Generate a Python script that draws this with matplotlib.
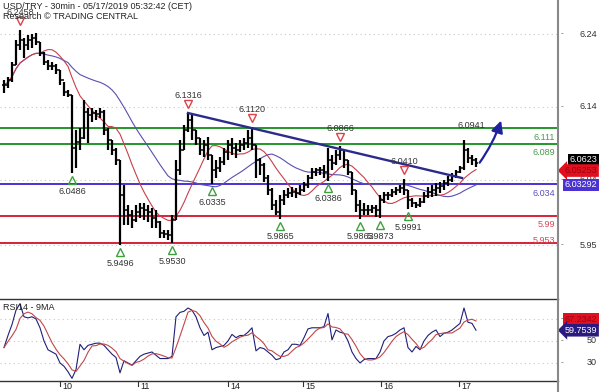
import matplotlib
matplotlib.use('Agg')
import matplotlib.pyplot as plt
from matplotlib.transforms import offset_copy
import numpy as np
import pandas as pd

plt.rcParams['font.family'] = ['Liberation Sans', 'DejaVu Sans']

# USD/TRY 30min bars (sampled)
high = [6.1770, 6.1811, 6.2017, 6.2319, 6.2458, 6.2347, 6.2388, 6.2402, 6.2416, 6.2292,
        6.2155, 6.2045, 6.2017, 6.1990, 6.1907, 6.1742, 6.1632, 6.1564, 6.1083, 6.1110,
        6.1495, 6.1385, 6.1385, 6.1357, 6.1385, 6.1357, 6.1110, 6.0945, 6.0836, 6.0671,
        6.0327, 6.0052, 5.9984, 6.0052, 6.0080, 6.0080, 6.0052, 6.0011, 5.9984, 5.9830,
        5.9709, 5.9709, 5.9915, 6.0671, 6.0945, 6.1152, 6.1316, 6.1289, 6.1083, 6.0973,
        6.0945, 6.0987, 6.0739, 6.0671, 6.0712, 6.0836, 6.0945, 6.0973, 6.0904, 6.0945,
        6.0973, 6.1083, 6.1120, 6.0877, 6.0698, 6.0629, 6.0465, 6.0286, 6.0121, 6.0190,
        6.0258, 6.0286, 6.0300, 6.0286, 6.0327, 6.0368, 6.0465, 6.0561, 6.0561, 6.0574,
        6.0602, 6.0836, 6.0739, 6.0808, 6.0866, 6.0808, 6.0671, 6.0506, 6.0258, 6.0121,
        6.0080, 6.0052, 6.0052, 6.0052, 6.0190, 6.0231, 6.0231, 6.0272, 6.0300, 6.0327,
        6.0410, 6.0258, 6.0149, 6.0093, 6.0149, 6.0231, 6.0300, 6.0327, 6.0355, 6.0368,
        6.0396, 6.0451, 6.0492, 6.0533, 6.0588, 6.0941, 6.0836, 6.0739, 6.0698]
low = [6.1591, 6.1660, 6.1742, 6.1976, 6.2182, 6.2072, 6.2182, 6.2209, 6.2251, 6.2100,
       6.1976, 6.1907, 6.1907, 6.1852, 6.1701, 6.1550, 6.1536, 6.0486, 6.0561, 6.0808,
       6.0960, 6.0904, 6.1193, 6.1220, 6.1248, 6.1014, 6.0808, 6.0739, 6.0602, 5.9496,
       5.9777, 5.9777, 5.9736, 5.9819, 5.9874, 5.9846, 5.9819, 5.9736, 5.9736, 5.9599,
       5.9599, 5.9571, 5.9530, 5.9846, 6.0465, 6.0808, 6.1055, 6.0945, 6.0877, 6.0739,
       6.0712, 6.0671, 6.0335, 6.0423, 6.0506, 6.0602, 6.0671, 6.0739, 6.0698, 6.0781,
       6.0808, 6.0836, 6.0808, 6.0423, 6.0465, 6.0368, 6.0190, 5.9984, 5.9915, 5.9865,
       6.0052, 6.0149, 6.0162, 6.0149, 6.0190, 6.0231, 6.0286, 6.0410, 6.0451, 6.0465,
       6.0423, 6.0386, 6.0533, 6.0602, 6.0671, 6.0561, 6.0465, 6.0190, 5.9956, 5.9863,
       5.9915, 5.9915, 5.9942, 5.9887, 5.9873, 6.0080, 6.0121, 6.0162, 6.0190, 6.0217,
       6.0190, 5.9991, 6.0025, 6.0011, 6.0025, 6.0080, 6.0149, 6.0162, 6.0176, 6.0217,
       6.0258, 6.0313, 6.0368, 6.0423, 6.0492, 6.0533, 6.0629, 6.0602, 6.0574]
close = [6.1701, 6.1770, 6.1976, 6.2251, 6.2319, 6.2251, 6.2319, 6.2347, 6.2292, 6.2141,
         6.2017, 6.1962, 6.1962, 6.1907, 6.1770, 6.1605, 6.1564, 6.0836, 6.0918, 6.0973,
         6.1330, 6.1289, 6.1316, 6.1303, 6.1330, 6.1083, 6.0945, 6.0808, 6.0671, 6.0190,
         5.9984, 5.9915, 5.9846, 5.9956, 6.0011, 5.9984, 5.9956, 5.9874, 5.9819, 5.9668,
         5.9654, 5.9640, 5.9846, 6.0533, 6.0808, 6.1083, 6.1220, 6.1083, 6.0973, 6.0808,
         6.0877, 6.0739, 6.0533, 6.0561, 6.0643, 6.0781, 6.0877, 6.0836, 6.0808, 6.0877,
         6.0904, 6.0973, 6.0877, 6.0671, 6.0602, 6.0423, 6.0258, 6.0052, 5.9956, 6.0121,
         6.0190, 6.0217, 6.0231, 6.0217, 6.0258, 6.0327, 6.0423, 6.0506, 6.0533, 6.0533,
         6.0506, 6.0671, 6.0629, 6.0739, 6.0808, 6.0671, 6.0506, 6.0258, 6.0052, 5.9984,
         5.9984, 5.9984, 6.0011, 5.9984, 6.0121, 6.0190, 6.0190, 6.0231, 6.0258, 6.0286,
         6.0258, 6.0121, 6.0080, 6.0052, 6.0093, 6.0176, 6.0231, 6.0258, 6.0286, 6.0313,
         6.0355, 6.0396, 6.0451, 6.0506, 6.0561, 6.0808, 6.0698, 6.0671, 6.0623]
rsi = [44, 55, 65, 78, 84, 72, 71, 72, 70, 62,
       50, 42, 40, 38, 30, 27, 22, 16, 24, 47,
       42, 46, 47, 48, 48, 46, 42, 38, 35, 21,
       32, 30, 28, 32, 36, 38, 39, 40, 37, 34,
       34, 34, 36, 72, 76, 77, 80, 78, 72, 62,
       55, 58, 42, 44, 45, 46, 50, 56, 53, 55,
       55, 58, 62, 41, 44, 43, 40, 37, 33, 34,
       40, 42, 47, 47, 46, 53, 61, 62, 62, 62,
       63, 75, 51, 60, 58, 57, 50, 40, 34, 30,
       33, 34, 34, 34, 40, 50, 54, 55, 57, 60,
       62, 44, 40, 45, 42, 50, 55, 58, 60, 54,
       57, 58, 60, 63, 66, 80, 67, 66, 59.7539]

# last values shown in the right-hand tags
last_fast_ma = 6.05253
last_slow_ma = 6.03292
last_rsi_ma = 67.2342

# analysis overlay
pivot_highs = [4, 46, 62, 84, 100]
pivot_lows = [17, 29, 42, 52, 69, 81, 89, 94, 101]
levels = [6.111, 6.089, 6.034, 5.99, 5.953]
level_colors = ['#22962a', '#22962a', '#4a32d4', '#d8203a', '#d8203a']
level_text_colors = ['#4a9a4a', '#4a9a4a', '#5a50c0', '#d84858', '#d84858']
trend_x = [46, 114.5]
trend_y = [6.1316, 6.0423]
target_x = [118.5, 124.5]
target_y = [6.0602, 6.1248]

day_pos = [14, 33.5, 56, 74.75, 94.25, 113.75]
day_labels = ['10', '11', '14', '15', '16', '17']
price_ticks = [6.24, 6.14, 6.04, 5.95]
rsi_ticks = [70, 50, 30]

idx = np.arange(len(close))
cl = pd.Series(close)
ma_fast = cl.rolling(10, min_periods=1).mean()
ma_slow = cl.rolling(25, min_periods=1).mean()
rsi_ma = pd.Series(rsi).rolling(4, min_periods=1).mean()
opens = [close[0]] + close[:-1]

fig = plt.figure(figsize=(6, 3.92), dpi=100)
ax = fig.add_axes([0, 0.2372, 0.93, 0.7628])
ax2 = fig.add_axes([0, 0.0281, 0.93, 0.2092])

for a in (ax, ax2):
    a.set_xlim(-1, 138.5)
    for s in a.spines.values():
        s.set_visible(False)
    a.set_xticks([])
    a.set_yticks([])
ax.set_ylim(5.876, 6.2869)
ax2.set_ylim(13.6, 88.2)

# grid and right scale
for t in price_ticks:
    ax.axhline(t, color='#c8c8c8', lw=0.8, ls=(0, (1, 3)), zorder=0)
    ax.annotate('-', (1.0, t), xycoords=('axes fraction', 'data'), xytext=(2, 0),
                textcoords='offset points', va='center', fontsize=6, color='#555')
    ax.annotate(f'{t:.2f}', (1.07, t), xycoords=('axes fraction', 'data'),
                ha='right', va='center', fontsize=6.5, color='#333', zorder=1,
                annotation_clip=False)
for t in rsi_ticks:
    ax2.axhline(t, color='#c8c8c8', lw=0.8, ls=(0, (1, 3)), zorder=0)
    ax2.annotate('-', (1.0, t), xycoords=('axes fraction', 'data'), xytext=(2, 0),
                 textcoords='offset points', va='center', fontsize=6, color='#555')
    ax2.annotate(f'{t}', (1.07, t), xycoords=('axes fraction', 'data'),
                 ha='right', va='center', fontsize=6.5, color='#333', zorder=1,
                 annotation_clip=False)

# level lines
offs = [-7, -6, -7, -6, 2]
for lv, c, tc, o in zip(levels, level_colors, level_text_colors, offs):
    ax.axhline(lv, color=c, lw=1.4, zorder=2)
    ax.annotate(f'{lv:g}', (0.995, lv), xycoords=('axes fraction', 'data'),
                xytext=(0, o), textcoords='offset points', ha='right',
                va='center', fontsize=6.5, color=tc)

# moving averages
ax.plot(idx, ma_slow, color='#5a4fb0', lw=0.8, zorder=3)
ax.plot(idx, ma_fast, color='#c8404a', lw=0.8, zorder=3)

# bars
ax.vlines(idx, low, high, color='black', lw=1.6, zorder=4)
ax.hlines(close, idx, idx + 0.5, color='black', lw=1.1, zorder=4)
ax.hlines(opens, idx - 0.5, idx, color='black', lw=1.1, zorder=4)

# trend line and projection arrow
ax.plot(trend_x, trend_y, color='#2b2b8c', lw=1.7, zorder=5)
ax.annotate('', xy=(target_x[1], target_y[1]), xytext=(target_x[0], target_y[0]),
            arrowprops=dict(arrowstyle='-|>,head_length=0.7,head_width=0.35',
                            color='#2020a0', lw=1.6,
                            connectionstyle='arc3,rad=0.08'), zorder=5)
ax.annotate(f'{high[115]:.4f}', (115, high[115]), xytext=(5, 11), textcoords='offset points',
            ha='center', va='center', fontsize=6.5, color='#333')

# pivots
tri_up = offset_copy(ax.transData, fig=fig, x=0, y=-5, units='points')
tri_dn = offset_copy(ax.transData, fig=fig, x=0, y=6.5, units='points')
ax.plot(pivot_highs, [high[i] for i in pivot_highs], 'v', ms=6, mfc='none',
        mec='#e0404a', mew=1, transform=tri_dn, zorder=6)
ax.plot(pivot_lows, [low[i] for i in pivot_lows], '^', ms=6, mfc='none',
        mec='#40a040', mew=1, transform=tri_up, zorder=6)
for i in pivot_highs:
    ax.annotate(f'{high[i]:.4f}', (i, high[i]), xytext=(0, 12.5), textcoords='offset points',
                ha='center', va='center', fontsize=6.5, color='#333', zorder=6)
for i in pivot_lows:
    ax.annotate(f'{low[i]:.4f}', (i, low[i]), xytext=(0, -13), textcoords='offset points',
                ha='center', va='center', fontsize=6.5, color='#333', zorder=6)


# right-side tags
def tag(a, val, text, fc, tc, arrow=False, dy=0):
    style = 'larrow,pad=0.2' if arrow else 'square,pad=0.2'
    a.annotate(text, (1.07, val), xycoords=('axes fraction', 'data'), xytext=(0, dy),
               textcoords='offset points', ha='right', va='center', fontsize=6.5,
               color=tc, zorder=10, annotation_clip=False,
               bbox=dict(boxstyle=style, fc=fc, ec='none'))


tag(ax, close[-1], f'{close[-1]:.4f}', 'black', 'white', dy=2.5)
tag(ax, last_fast_ma, f'{last_fast_ma:.5f}', '#e01020', '#a00010', arrow=True)
tag(ax, last_slow_ma, f'{last_slow_ma:.5f}', '#4a32d4', 'white')

# RSI panel
ax2.plot(idx, rsi, color='#1f1f7a', lw=0.8, zorder=3)
ax2.plot(idx, rsi_ma, color='#c04848', lw=0.8, zorder=3)
tag(ax2, last_rsi_ma, f'{last_rsi_ma:.4f}', '#e01020', '#a00010', dy=2)
tag(ax2, rsi[-1], f'{rsi[-1]:.4f}', '#2a1a80', 'white', arrow=True)
ax2.text(0.005, 0.95, 'RSI14 - 9MA', transform=ax2.transAxes, fontsize=6.5,
         va='top', color='#222')
for p, lab in zip(day_pos, day_labels):
    ax2.plot([p, p], [0, -0.06], color='#333', lw=0.8, transform=ax2.get_xaxis_transform(),
             clip_on=False)
    ax2.annotate(lab, (p, 0), xycoords=('data', 'axes fraction'), xytext=(1.5, -4.3),
                 textcoords='offset points', ha='left', va='center', fontsize=6.5,
                 color='#222', annotation_clip=False)

# panel borders
fig.add_artist(plt.Line2D([0, 0.93], [0.2372, 0.2372], color='#333', lw=1))
fig.add_artist(plt.Line2D([0, 0.93], [0.0281, 0.0281], color='#333', lw=1))
fig.add_artist(plt.Line2D([0.93, 0.93], [0, 1], color='#888', lw=1.5))

fig.text(0.005, 0.995, 'USD/TRY - 30min - 05/17/2019 05:32:42 (CET)', fontsize=6.5,
         va='top', color='#222')
fig.text(0.005, 0.97, 'Research \u00a9 TRADING CENTRAL', fontsize=6.5, va='top', color='#222')

fig.savefig('out.png', dpi=100)
